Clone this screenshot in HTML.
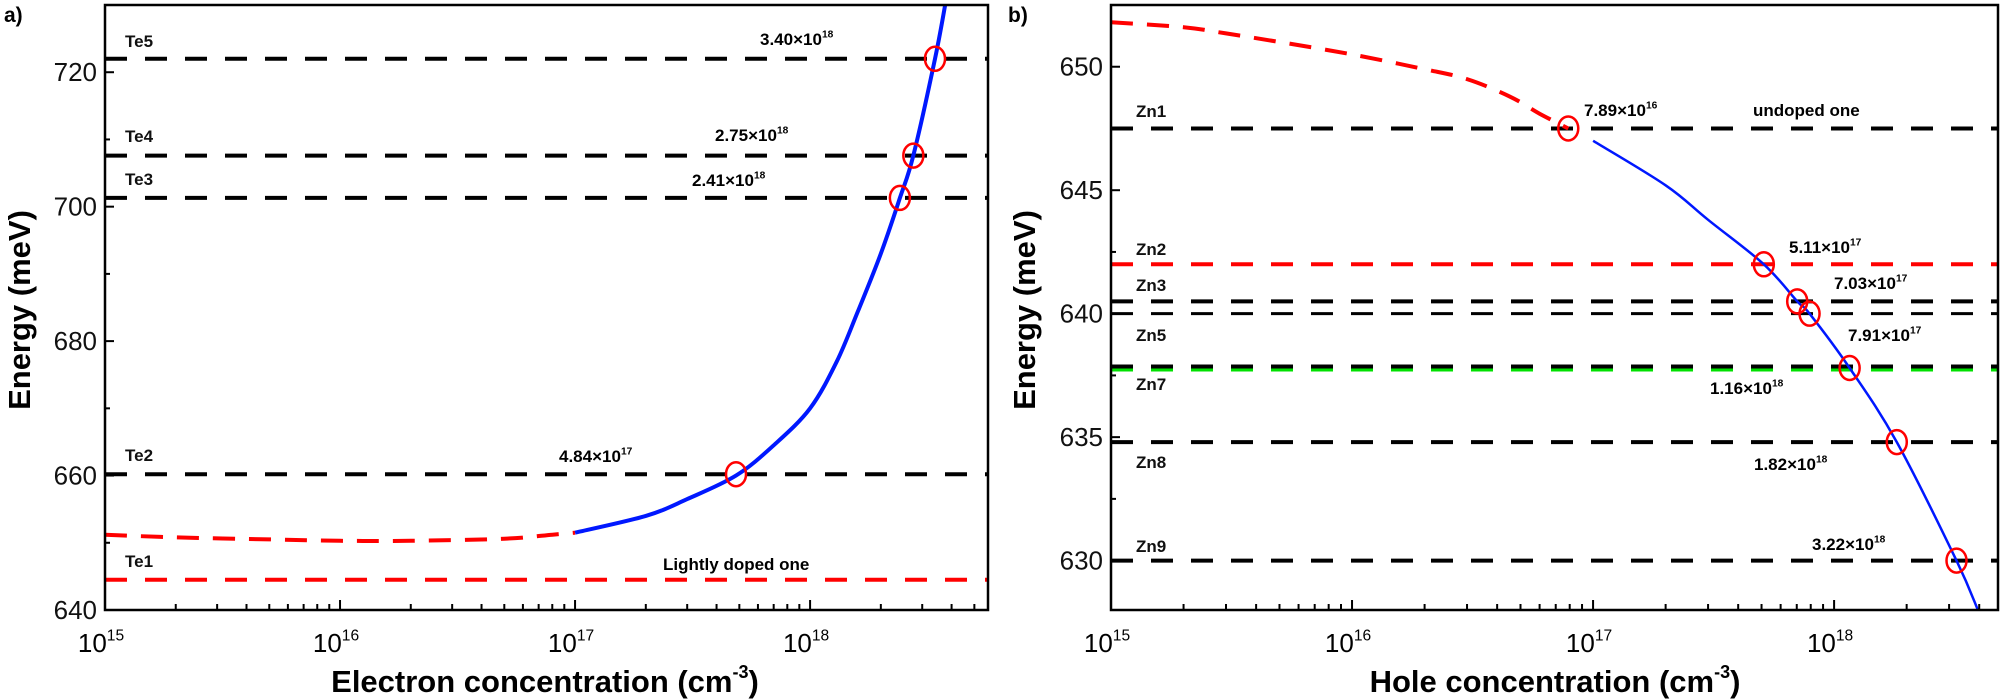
<!DOCTYPE html>
<html><head><meta charset="utf-8"><style>
html,body{margin:0;padding:0;background:#fff;}
svg{display:block;font-family:"Liberation Sans",Arial,sans-serif;}
</style></head><body>
<svg id="fig" width="2002" height="700" viewBox="0 0 2002 700" xmlns="http://www.w3.org/2000/svg"></svg>
<script>
// ---- Panel a data ----
const aLevelNames = ["Te5","Te4","Te3","Te2","Te1"];
const aLevelValues = [722, 707.6, 701.3, 660.2, 644.5];
const aLevelColors = ["#000","#000","#000","#000","#f00"];
const aRedX = [1e15, 2e15, 5e15, 1e16, 2e16, 5e16, 8e16, 1e17];
const aRedY = [651.2, 650.8, 650.5, 650.3, 650.3, 650.6, 651.2, 651.5];
const aBlueX = [1e17, 2e17, 3e17, 4.84e17, 7e17, 1e18, 1.3e18, 1.6e18, 2e18, 2.41e18, 2.75e18, 3.4e18, 3.8e18];
const aBlueY = [651.5, 654, 656.5, 660, 664.5, 670, 677, 684.5, 693, 701.3, 707.6, 722, 731];
const aMarkX = [4.84e17, 2.41e18, 2.75e18, 3.4e18];
const aMarkY = [660.2, 701.3, 707.6, 722];
const aYTicks = [640, 660, 680, 700, 720];
const aXTicks = [15, 16, 17, 18];
// ---- Panel b data ----
const bLevelNames = ["Zn1","Zn2","Zn3","Zn5","Zn7","Zn8","Zn9"];
const bLevelValues = [647.5, 642, 640.5, 640.0, 637.8, 634.8, 630];
const bLevelColors = ["#000","#f00","#000","#000","#000","#000","#000"];
const bRedX = [1e15, 2e15, 3e15, 5e15, 1e16, 2e16, 3e16, 4.5e16, 6e16, 7.89e16];
const bRedY = [651.8, 651.6, 651.35, 651.0, 650.5, 649.9, 649.5, 648.8, 648.1, 647.5];
const bBlueX = [1e17, 2e17, 3e17, 5.11e17, 7.03e17, 7.91e17, 1.16e18, 1.82e18, 3.22e18, 3.95e18];
const bBlueY = [647.0, 645.2, 643.8, 642, 640.5, 640.0, 637.8, 634.8, 630, 628];
const bMarkX = [7.89e16, 5.11e17, 7.03e17, 7.91e17, 1.16e18, 1.82e18, 3.22e18];
const bMarkY = [647.5, 642, 640.5, 640.0, 637.8, 634.8, 630];
const bYTicks = [630, 635, 640, 645, 650];
const bXTicks = [15, 16, 17, 18];

const NS = "http://www.w3.org/2000/svg";
const svg = document.getElementById("fig");
function mk(tag, attrs, parent, txt){
  const e = document.createElementNS(NS, tag);
  for (const k in attrs) e.setAttribute(k, attrs[k]);
  if (txt !== undefined) e.textContent = txt;
  (parent || svg).appendChild(e);
  return e;
}
function lbl(parent, x, y, main, sup, size, bold, anchor){
  const t = mk("text", {x:x, y:y, "font-size":size, "font-weight":bold?"bold":"normal", "text-anchor":anchor||"start", fill:"#000"}, parent);
  mk("tspan", {}, t, main);
  if (sup){ mk("tspan", {dy:-size*0.45, "font-size":size*0.6}, t, sup); }
  return t;
}
function smoothPath(pts){
  let d = "M" + pts[0][0].toFixed(1) + "," + pts[0][1].toFixed(1);
  for (let i=0;i<pts.length-1;i++){
    const p0 = pts[i-1]||pts[i], p1=pts[i], p2=pts[i+1], p3=pts[i+2]||pts[i+1];
    const c1x = p1[0]+(p2[0]-p0[0])/6, c1y = p1[1]+(p2[1]-p0[1])/6;
    const c2x = p2[0]-(p3[0]-p1[0])/6, c2y = p2[1]-(p3[1]-p1[1])/6;
    d += " C"+c1x.toFixed(1)+","+c1y.toFixed(1)+" "+c2x.toFixed(1)+","+c2y.toFixed(1)+" "+p2[0].toFixed(1)+","+p2[1].toFixed(1);
  }
  return d;
}

function panel(cfg){
  const g = mk("g", {});
  
  
  const L=cfg.L, R=cfg.R, T=cfg.T, B=cfg.B;
  const xs = v => L + (Math.log10(v) - 15) / (cfg.xmaxLog - 15) * (R - L);
  const ys = v => B - (v - cfg.ymin) / (cfg.ymax - cfg.ymin) * (B - T);
  const clip = mk("clipPath", {id: cfg.name+"-clip"}, g);
  mk("rect", {x:L, y:T, width:R-L, height:B-T}, clip);
  const plot = mk("g", {"clip-path":"url(#"+cfg.name+"-clip)"}, g);
  cfg.levels.forEach((v,i)=>{
    const w = (cfg.thin && cfg.thin.includes(i)) ? 3 : 4;
    const ln = mk("line", {x1:L, x2:R, y1:ys(v), y2:ys(v), stroke:cfg.levelColors[i], "stroke-width":w, "stroke-dasharray":"22 18"}, plot);
    
    
    if (cfg.green === i){
      const gl = mk("line", {x1:L, x2:R, y1:ys(v)+2, y2:ys(v)+2, stroke:"#00e000", "stroke-width":3, "stroke-dasharray":"22 18"}, plot);
      
      
      ln.setAttribute("y1", ys(v)-1.5); ln.setAttribute("y2", ys(v)-1.5);
    }
  });
  const red = mk("path", {d:smoothPath(cfg.redX.map((x,i)=>[xs(x), ys(cfg.redY[i])])), fill:"none", stroke:"#f00", "stroke-width":4, "stroke-dasharray":"22 14"}, plot);
  
  
  const blue = mk("path", {d:smoothPath(cfg.blueX.map((x,i)=>[xs(x), ys(cfg.blueY[i])])), fill:"none", stroke:"#0018ff", "stroke-width":cfg.blueW, "stroke-linejoin":"round"}, plot);
  
  
  cfg.markX.forEach((x,i)=>{
    const c = mk("ellipse", {cx:xs(x), cy:ys(cfg.markY[i]), rx:10, ry:12, fill:"none", stroke:"#f00", "stroke-width":2.5}, g);
    
    
  });
  const box = mk("rect", {x:L, y:T, width:R-L, height:B-T, fill:"none", stroke:"#000", "stroke-width":2.5}, g);
  
  
  const step = cfg.yTicks[1]-cfg.yTicks[0];
  cfg.yTicks.forEach(v=>{
    mk("line", {x1:L, x2:L+9, y1:ys(v), y2:ys(v), stroke:"#000", "stroke-width":2}, g);
    const mv = v + step/2;
    if (mv <= cfg.ymax) mk("line", {x1:L, x2:L+5, y1:ys(mv), y2:ys(mv), stroke:"#000", "stroke-width":2}, g);
    const t = mk("text", {x:L-8, y:ys(v)+9, "font-size":26, "text-anchor":"end", fill:"#111"}, g, String(v));
    
    
  });
  for (let d=15; d<19; d++){
    for (let m=1; m<10; m++){
      const v = m*Math.pow(10,d);
      if (Math.log10(v) > cfg.xmaxLog) break;
      mk("line", {x1:xs(v), x2:xs(v), y1:B, y2:B-(m===1?10:6), stroke:"#000", "stroke-width":2}, g);
    }
  }
  cfg.xTicks.forEach(d=>{
    const t = lbl(g, xs(Math.pow(10,d))-4, B+42, "10", String(d), 26, false, "middle");
    
    
  });
  cfg.levelNames.forEach((n,i)=>{
    const t = mk("text", {x:cfg.nameX, y:cfg.nameY[i], "font-size":17, "font-weight":"bold", fill:"#111"}, g, n);
    
    
  });
  cfg.valLabels.forEach(v=>{
    const t = lbl(g, v[0], v[1], v[2], v[3], 17, true, "start");
    
    
  });
  const yt = mk("text", {x:0, y:0, "font-size":31, "font-weight":"bold", "text-anchor":"middle", transform:"translate("+cfg.ytX+",310) rotate(-90)", fill:"#000"}, g, "Energy (meV)");
  
  
  const xt = lbl(g, cfg.xtX, 692, cfg.xTitle+" (cm", "-3", 31, true, "middle");
  xt.lastChild.setAttribute("font-size", 18);
  mk("tspan", {dy:13.9}, xt, ")");
  
  
  const pl = mk("text", {x:cfg.plX, y:22, "font-size":21, "font-weight":"bold", fill:"#000"}, g, cfg.panelLabel);
  
  
}

panel({name:"panel-a", L:105, R:988, T:5, B:610, xmaxLog:18.757, ymin:640, ymax:730,
  levels:aLevelValues, levelNames:aLevelNames, levelColors:aLevelColors,
  redX:aRedX, redY:aRedY, blueX:aBlueX, blueY:aBlueY, blueW:4, markX:aMarkX, markY:aMarkY,
  yTicks:aYTicks, xTicks:aXTicks, nameX:125, nameY:[47,142,185,461,567],
  valLabels:[[760,45,"3.40×10","18"],[715,141,"2.75×10","18"],[692,186,"2.41×10","18"],[559,462,"4.84×10","17"],[663,570,"Lightly doped one",""]],
  ytX:30, xtX:545, xTitle:"Electron concentration", plX:4, panelLabel:"a)"});

panel({name:"panel-b", L:1111, R:1998, T:5, B:610, xmaxLog:18.68, ymin:628.0, ymax:652.5,
  levels:bLevelValues, levelNames:bLevelNames, levelColors:bLevelColors, thin:[3], green:4,
  redX:bRedX, redY:bRedY, blueX:bBlueX, blueY:bBlueY, blueW:2.5, markX:bMarkX, markY:bMarkY,
  yTicks:bYTicks, xTicks:bXTicks, nameX:1136, nameY:[117,255,291,341,390,468,552],
  valLabels:[[1584,116,"7.89×10","16"],[1753,116,"undoped one",""],[1789,253,"5.11×10","17"],[1834,289,"7.03×10","17"],[1848,341,"7.91×10","17"],[1710,394,"1.16×10","18"],[1754,470,"1.82×10","18"],[1812,550,"3.22×10","18"]],
  ytX:1035, xtX:1555, xTitle:"Hole concentration", plX:1008, panelLabel:"b)"});
</script>
</body></html>
